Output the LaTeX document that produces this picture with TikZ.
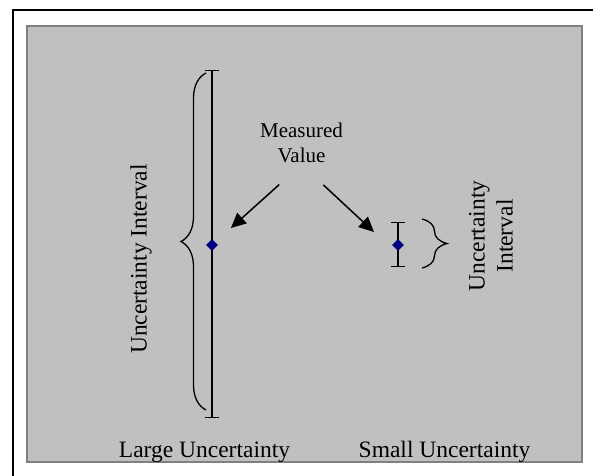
\documentclass[tikz,border=0pt]{standalone}
\usepackage{fontspec}
\setmainfont{Liberation Serif}
\usetikzlibrary{arrows.meta, shapes.geometric, positioning, decorations.pathreplacing}

\definecolor{panelgray}{HTML}{C0C0C0}
\definecolor{edgegray}{HTML}{808080}
\definecolor{valblue}{HTML}{000080}

\tikzset{
    ebar/.style={line width=1.3pt, {Bar[width=14pt]}-{Bar[width=14pt]}},
    valpt/.style={diamond, fill=valblue, inner sep=0pt, minimum size=12pt},
    curly/.style={line width=1.3pt, decorate, decoration={brace, amplitude=25pt}},
    lbl/.style={font=\fontsize{23.5}{28}\selectfont, inner sep=2pt}
}

\begin{document}
\begin{tikzpicture}[x=1pt, y=-1pt, >={Triangle[length=15pt, width=14pt]}]

        \useasboundingbox (0,0) rectangle (593,475);

        \draw[line width=2pt] (640,10) -- (12.5,10) -- (12.5,500);
        \draw[fill=panelgray, draw=edgegray, line width=1.5pt] (27,26) rectangle (582,462);

        % large interval
        \coordinate (bigtop) at (212,70);
        \coordinate (bigbot) at (212,418);
        \draw[ebar] (bigtop) -- (bigbot);
        \node[valpt] (bigval) at (212,245) {};
        \draw[curly] (206,410) -- (206,73);
        \node[lbl, rotate=90] (biglbl) at (141,259) {Uncertainty Interval};

        % small interval
        \coordinate (smalltop) at (398,222);
        \coordinate (smallbot) at (398,267);
        \draw[ebar] (smalltop) -- (smallbot);
        \node[valpt] (smallval) at (398,245) {};
        \draw[curly] (422,219) -- (422,268);
        \node[lbl, rotate=90, align=center] (smalllbl) at (491,236) {Uncertainty\\Interval};

        \node[font=\fontsize{21}{25}\selectfont, align=center, inner sep=2pt] (measured) at (301.5,142.4) {Measured\\Value};
        \coordinate (tipR) at (374,232);

        \draw[->, line width=1.5pt, shorten <=30pt, shorten >=21pt] (measured.south) -- (bigval);
        \draw[->, line width=1.5pt, shorten <=30pt] (measured.south) -- (tipR);

        \node[lbl, anchor=base] (large) at (204.5,457) {Large Uncertainty};
        \node[lbl, anchor=base] (small) at (444.5,457) {Small Uncertainty};

    \end{tikzpicture}
\end{document}
